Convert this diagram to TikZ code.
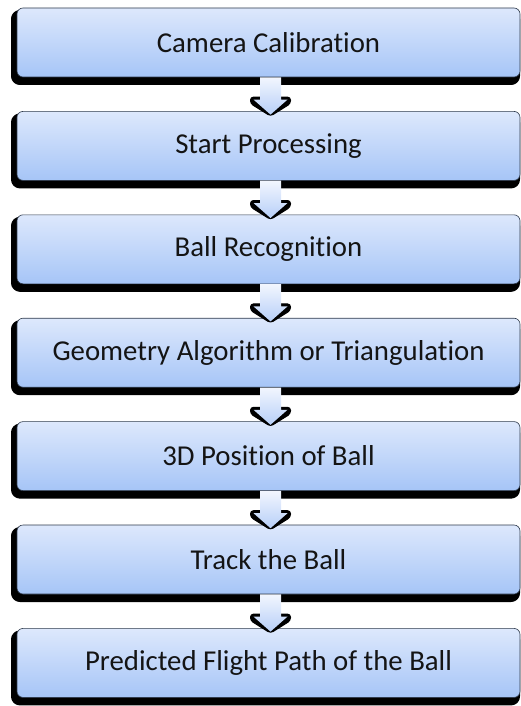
\documentclass[tikz,border=0pt]{standalone}
\usepackage{fontspec}
\setmainfont[RawFeature={-liga}]{Carlito}
\usetikzlibrary{calc}
\definecolor{boxtop}{HTML}{DDE8FC}
\definecolor{boxbot}{HTML}{A6C5F7}
\definecolor{boxline}{HTML}{2E3A4C}
\definecolor{arrtop}{HTML}{F2F6FE}
\definecolor{arrbot}{HTML}{B7CFF8}
\definecolor{txt}{HTML}{141414}
\begin{document}
\begin{tikzpicture}[x=1pt,y=-1pt,
  stepbox/.style={minimum width=503pt, minimum height=69pt, inner sep=0pt,
    rounded corners=6pt, top color=boxtop, bottom color=boxbot,
    draw=boxline, line width=0.6pt, text=txt,
    font=\fontsize{28.8}{30}\selectfont,
    preaction={fill=black, draw=black, line width=6pt, line join=round,
      transform canvas={xshift=-3pt, yshift=-5pt}}},
  flowarrow/.style={top color=arrtop, bottom color=arrbot, draw=none},
  arrowshade/.style={fill=black, draw=black, line width=1pt, rounded corners=3pt},
]
\useasboundingbox (0,0) rectangle (521,706);

% process steps, top to bottom
\node[stepbox] (s1) at (268.5,42.5)  {Camera Calibration};
\node[stepbox] (s2) at (268.5,145.9) {Start Processing};
\node[stepbox] (s3) at (268.5,249.3) {Ball Recognition};
\node[stepbox] (s4) at (268.5,352.7) {Geometry Algorithm or Triangulation};
\node[stepbox] (s5) at (268.5,456.1) {3D Position of Ball};
\node[stepbox] (s6) at (268.5,559.5) {Track the Ball};
\node[stepbox] (s7) at (268.5,662.9) {Predicted Flight Path of the Ball};

% block arrows between consecutive steps
\foreach \a/\b in {s1/s2, s2/s3, s3/s4, s4/s5, s5/s6, s6/s7} {
  \coordinate (top) at ($(\a.south)+(2,0)$);
  \coordinate (tip) at ($(\b.north)+(2,3.5)$);
  % dark halo under the arrow head
  \path[arrowshade] ($(tip)+(-20,-17.5)$) -- ($(tip)+(20,-17.5)$)
    -- ($(tip)+(20,-11)$) -- ($(tip)+(0,1.5)$) -- ($(tip)+(-20,-11)$) -- cycle;
  % arrow body
  \path[flowarrow] ($(top)+(-10.5,0)$) -- ($(top)+(10.5,0)$)
    -- ($(tip)+(10.5,-15)$) -- ($(tip)+(17,-15)$) -- (tip)
    -- ($(tip)+(-17,-15)$) -- ($(tip)+(-10.5,-15)$) -- cycle;
}
\end{tikzpicture}
\end{document}
